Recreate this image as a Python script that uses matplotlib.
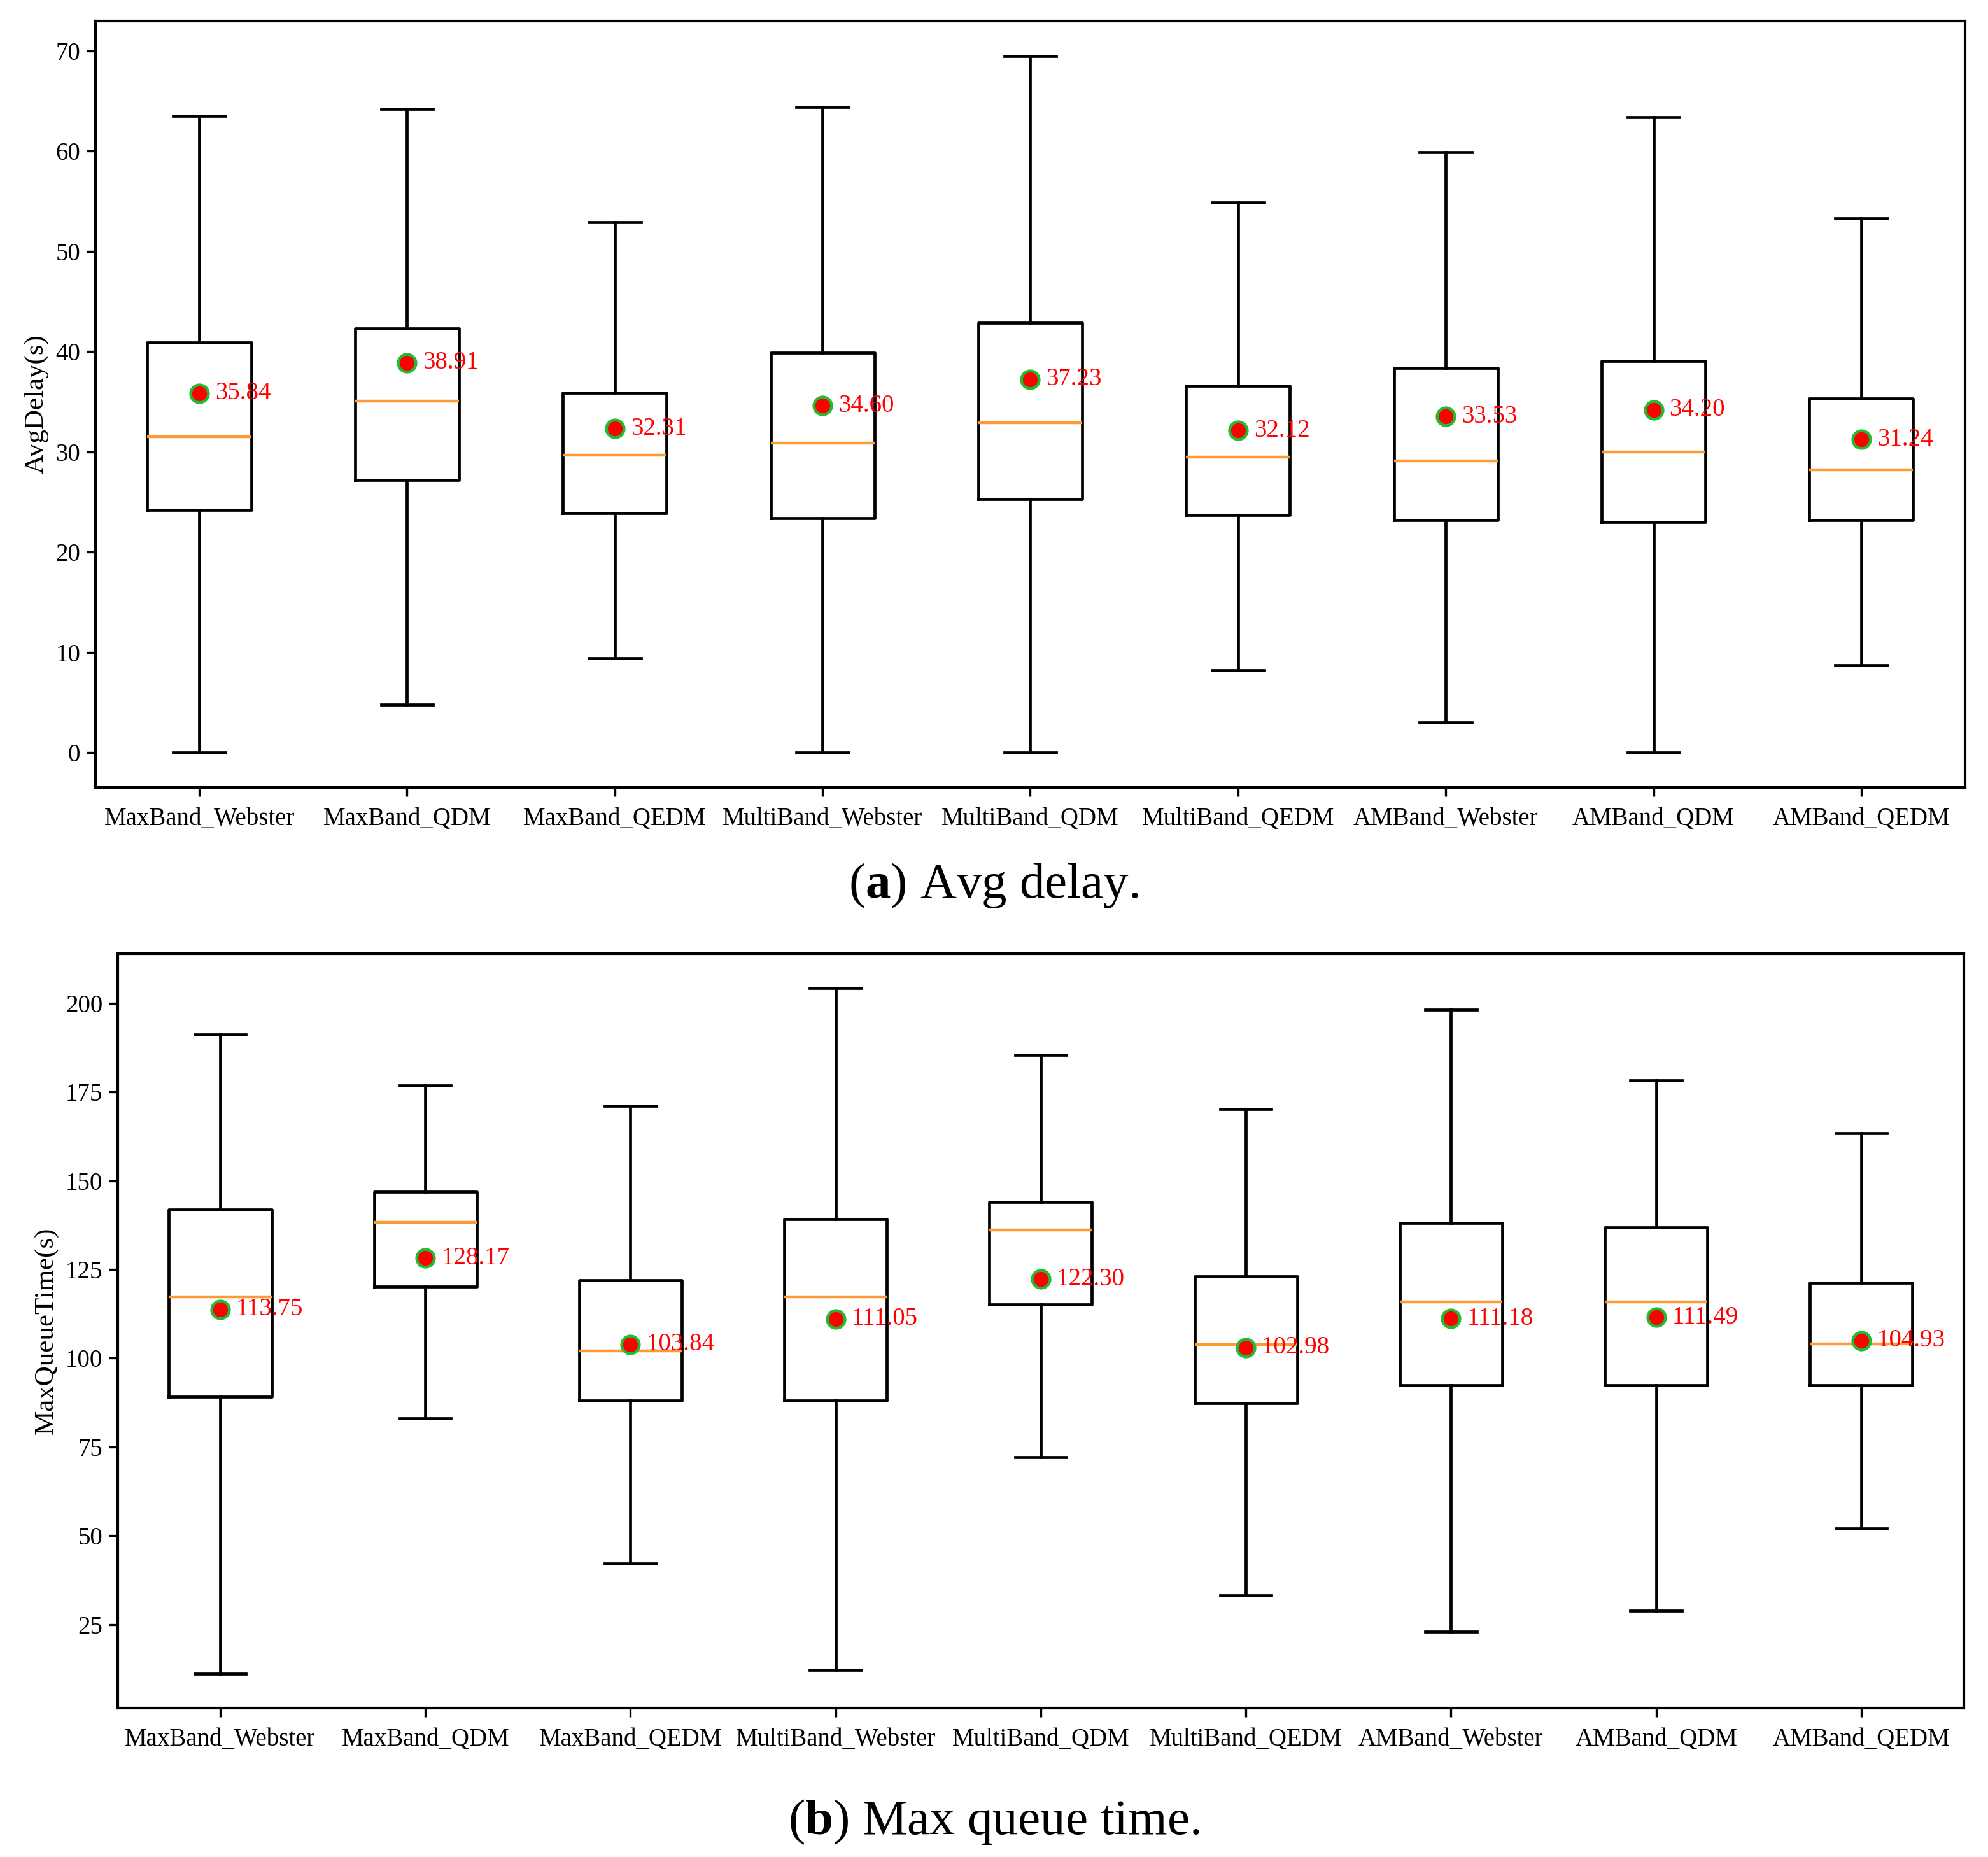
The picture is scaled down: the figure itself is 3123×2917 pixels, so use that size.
import matplotlib
matplotlib.use("Agg")
import matplotlib.pyplot as plt

plt.rcParams['font.family'] = ['Liberation Serif', 'DejaVu Serif']
plt.rcParams['mathtext.fontset'] = 'custom'
plt.rcParams['mathtext.rm'] = 'Liberation Serif'
plt.rcParams['mathtext.bf'] = 'Liberation Serif:bold'

# categories
methods = ['MaxBand_Webster', 'MaxBand_QDM', 'MaxBand_QEDM',
           'MultiBand_Webster', 'MultiBand_QDM', 'MultiBand_QEDM',
           'AMBand_Webster', 'AMBand_QDM', 'AMBand_QEDM']

# (a) avg delay
delay_low = [0.0, 4.8, 9.4, 0.0, 0.0, 8.2, 3.0, 0.0, 8.7]
delay_q1 = [24.2, 27.2, 23.9, 23.4, 25.3, 23.7, 23.2, 23.0, 23.2]
delay_med = [31.5, 35.1, 29.7, 30.9, 32.9, 29.5, 29.1, 30.0, 28.2]
delay_q3 = [40.9, 42.3, 35.9, 39.9, 42.9, 36.6, 38.4, 39.1, 35.3]
delay_high = [63.5, 64.2, 52.9, 64.4, 69.5, 54.9, 59.9, 63.4, 53.3]
delay_mean = [35.84, 38.91, 32.31, 34.60, 37.23, 32.12, 33.53, 34.20, 31.24]

# (b) max queue time
queue_low = [11.1, 83.1, 42.1, 12.2, 72.1, 33.2, 22.9, 28.9, 52.1]
queue_q1 = [89.2, 120.2, 88.1, 88.1, 115.2, 87.4, 92.4, 92.4, 92.4]
queue_med = [117.3, 138.3, 102.0, 117.3, 136.2, 103.8, 115.9, 115.9, 104.1]
queue_q3 = [141.9, 146.9, 122.0, 139.1, 144.0, 123.0, 138.0, 136.9, 121.2]
queue_high = [191.1, 176.8, 171.1, 204.3, 185.4, 170.1, 198.2, 178.3, 163.3]
queue_mean = [113.75, 128.17, 103.84, 111.05, 122.30, 102.98, 111.18, 111.49, 104.93]


def draw(ax, low, q1, med, q3, high, mean, ylabel):
    stats = []
    for i in range(len(methods)):
        stats.append({'whislo': low[i], 'q1': q1[i], 'med': med[i],
                      'q3': q3[i], 'whishi': high[i], 'mean': mean[i],
                      'label': methods[i]})
    ax.bxp(stats, showmeans=True, showfliers=False,
           boxprops=dict(color='black', linewidth=1.7),
           whiskerprops=dict(color='black', linewidth=1.7),
           capprops=dict(color='black', linewidth=1.7),
           medianprops=dict(color='#ff9933', linewidth=1.6),
           meanprops=dict(marker='o', markerfacecolor='red',
                          markeredgecolor='#22bb33', markersize=10,
                          markeredgewidth=1.6))
    for i, m in enumerate(mean):
        ax.annotate('%.2f' % m, (i + 1, m), xytext=(9, 0),
                    textcoords='offset points', color='red',
                    fontsize=14, va='center', ha='left')
    ax.set_ylabel(ylabel, fontsize=15.5, labelpad=4)
    ax.tick_params(labelsize=14, width=1.2, length=5)
    ax.tick_params(axis='x', pad=6)
    for s in ax.spines.values():
        s.set_linewidth(1.5)


fig = plt.figure(figsize=(15.615, 14.585), dpi=200)
ax1 = fig.add_axes([0.048, 0.5759, 0.9405, 0.4128])
ax2 = fig.add_axes([0.0592, 0.0802, 0.9286, 0.4063])

draw(ax1, delay_low, delay_q1, delay_med, delay_q3, delay_high, delay_mean, 'AvgDelay(s)')
draw(ax2, queue_low, queue_q1, queue_med, queue_q3, queue_high, queue_mean, 'MaxQueueTime(s)')
ax1.set_yticks([0, 10, 20, 30, 40, 50, 60, 70])
ax2.set_yticks([25, 50, 75, 100, 125, 150, 175, 200])

fig.text(0.5, 0.523, r'($\mathbf{a}$) Avg delay.', ha='center', va='center', fontsize=28.5)
fig.text(0.5, 0.019, r'($\mathbf{b}$) Max queue time.', ha='center', va='center', fontsize=28.5)

fig.savefig('out.png', dpi=200)
